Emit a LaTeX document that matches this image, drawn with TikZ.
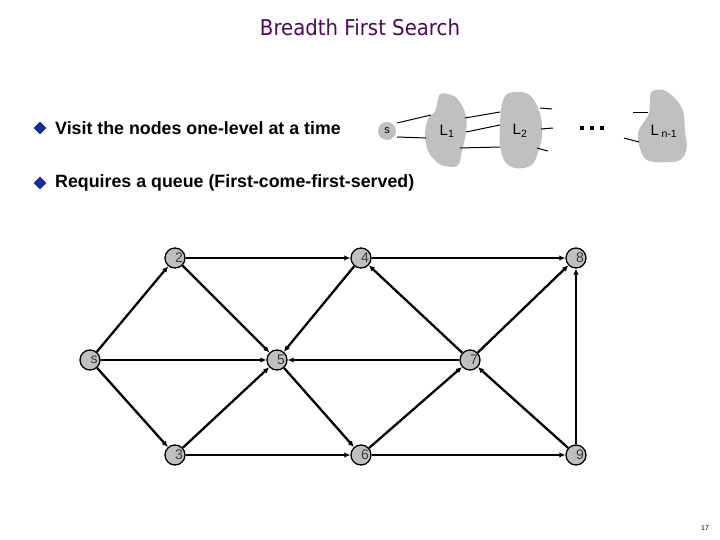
\documentclass[tikz,border=0pt]{standalone}
\usepackage{fontspec}
\setmainfont{Liberation Sans}
\newfontfamily\titlefont{DejaVu Sans}
\usetikzlibrary{arrows.meta,shapes.geometric}
\definecolor{blobgray}{RGB}{192,192,192}
\definecolor{titlepurple}{RGB}{75,10,85}
\definecolor{bulletblue}{RGB}{16,48,150}
\definecolor{labgray}{RGB}{60,60,60}
\tikzset{
  gnode/.style={circle,draw=black,line width=1.3pt,fill=blobgray,minimum size=20pt,inner sep=0pt},
  glab/.style={font=\fontsize{14}{14}\selectfont,text=labgray,inner sep=0pt},
  edge/.style={line width=2.3pt,-{Latex[length=6pt,width=5.5pt]}},
  thin/.style={line width=1pt},
  blob/.style={fill=blobgray,draw=none},
  bullet/.style={diamond,fill=bulletblue,inner sep=0pt,minimum size=13pt},
  btext/.style={font=\bfseries\fontsize{17.8}{18}\selectfont,anchor=west,inner sep=0pt}
}
\begin{document}
\begin{tikzpicture}[x=1pt,y=-1pt]
\useasboundingbox (0,0) rectangle (720,540);
% title
\node[text=titlepurple,inner sep=0pt,anchor=base] (title) at (360,35.7) {\resizebox{200pt}{16.5pt}{\titlefont\fontsize{20}{20}\selectfont Breadth First Search}};
% bullets
\node[bullet] (b1) at (40,128) {};
\node[btext] (t1) at (55,128) {Visit the nodes one-level at a time};
\node[bullet] (b2) at (40,183) {};
\node[btext] (t2) at (55,183) {Requires a queue (First-come-first-served)};
% top sketch
\path[blob] plot[smooth cycle,tension=0.6] coordinates {(441.7,93.3) (455,96.7) (463.3,108.3) (466.7,121.7) (465,138.3) (461.7,151.7) (458.3,165) (448.3,166.7) (438.3,163.3) (428.3,151.7) (425,135) (428.3,118.3) (435,111.7) (438.3,98.3)};
\path[blob] plot[smooth cycle,tension=0.6] coordinates {(508.3,93.3) (526.7,93.3) (536.7,105) (541.7,121.7) (541.7,138.3) (538.3,151.7) (531.7,165) (516.7,168.3) (505,161.7) (500,145) (500,125) (501.7,105)};
\path[blob] plot[smooth cycle,tension=0.6] coordinates {(651.7,91.7) (663.3,90) (675,98.3) (683.3,111.7) (685,131.7) (686.7,148.3) (680,160) (663.3,162.3) (646.7,160) (640,148.3) (638.3,131.7) (648.3,115) (650,101.7)};
\node[circle,fill=blobgray,minimum size=18pt,inner sep=0pt,font=\fontsize{11}{11}\selectfont] (ts) at (387,131) {s};
\coordinate (a1) at (431,115);
\coordinate (a2) at (426,138);
\draw[thin] (397,123) -- (a1);
\draw[thin] (397,137) -- (a2);
\coordinate (c1) at (465,118); \coordinate (d1) at (500,112);
\coordinate (c2) at (466,132); \coordinate (d2) at (500,125);
\coordinate (c3) at (460,148); \coordinate (d3) at (500,147);
\draw[thin] (c1) -- (d1);
\draw[thin] (c2) -- (d2);
\draw[thin] (c3) -- (d3);
\coordinate (e1) at (540,108); \coordinate (f1) at (552,109);
\coordinate (e2) at (541,129); \coordinate (f2) at (553,128);
\coordinate (e3) at (537,148); \coordinate (f3) at (548,151);
\draw[thin] (e1) -- (f1);
\draw[thin] (e2) -- (f2);
\draw[thin] (e3) -- (f3);
\coordinate (g1) at (633,113); \coordinate (h1) at (648,113);
\coordinate (g2) at (624,138); \coordinate (h2) at (639,142);
\draw[thin] (g1) -- (h1);
\draw[thin] (g2) -- (h2);
\node[font=\fontsize{15}{15}\selectfont,inner sep=0pt] (L1) at (447,131) {L\textsubscript{1}};
\node[font=\fontsize{15}{15}\selectfont,inner sep=0pt] (L2) at (520,131) {L\textsubscript{2}};
\node[font=\fontsize{15}{15}\selectfont,inner sep=0pt] (Ln) at (664,131) {L\,\textsubscript{n-1}};
\foreach \x in {582,592,602} \fill (\x-2,126) rectangle (\x+2,130);
% graph
\node[gnode,label={[glab,xshift=4pt]center:s}] (s) at (90,360) {};
\node[gnode,label={[glab,xshift=4pt]center:2}] (n2) at (175,258) {};
\node[gnode,label={[glab,xshift=4pt]center:3}] (n3) at (175,455) {};
\node[gnode,label={[glab,xshift=4pt]center:5}] (n5) at (277,360) {};
\node[gnode,label={[glab,xshift=4pt]center:4}] (n4) at (361,258) {};
\node[gnode,label={[glab,xshift=4pt]center:6}] (n6) at (361,455) {};
\node[gnode,label={[glab,xshift=4pt]center:7}] (n7) at (470,360) {};
\node[gnode,label={[glab,xshift=4pt]center:8}] (n8) at (576,258) {};
\node[gnode,label={[glab,xshift=4pt]center:9}] (n9) at (576,455) {};
\draw[edge] (s) -- (n2);
\draw[edge] (s) -- (n5);
\draw[edge] (s) -- (n3);
\draw[edge] (n2) -- (n5);
\draw[edge] (n2) -- (n4);
\draw[edge] (n3) -- (n5);
\draw[edge] (n3) -- (n6);
\draw[edge] (n4) -- (n5);
\draw[edge] (n5) -- (n6);
\draw[edge] (n4) -- (n8);
\draw[edge] (n7) -- (n4);
\draw[edge] (n7) -- (n5);
\draw[edge] (n6) -- (n7);
\draw[edge] (n7) -- (n8);
\draw[edge] (n9) -- (n7);
\draw[edge] (n6) -- (n9);
\draw[edge] (n9) -- (n8);
% page number
\node[font=\fontsize{7}{7}\selectfont,inner sep=0pt] (pg) at (705,528) {17};
\end{tikzpicture}
\end{document}
